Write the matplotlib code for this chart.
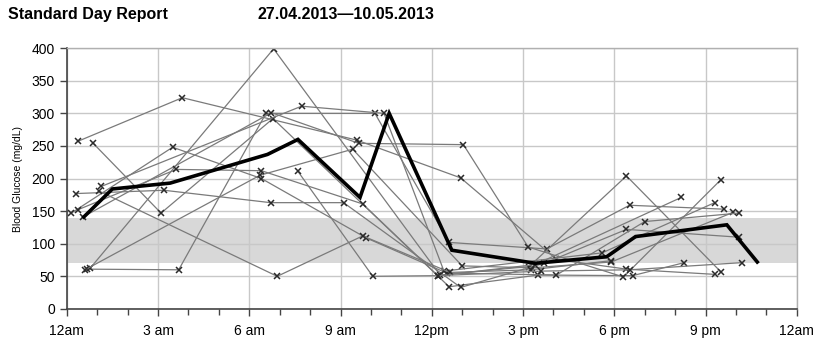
import numpy as np
import matplotlib
matplotlib.use('Agg')
from matplotlib import pyplot as plt
from matplotlib.ticker import MultipleLocator

plt.rcParams['font.family'] = ['Liberation Sans', 'DejaVu Sans']

# readings per day: hour of day, glucose in mg/dL
d1_h = [0.36, 3.8, 9.53, 12.95, 16.1, 18.4, 21.3]
d1_v = [257, 324, 259, 201, 76, 61, 53]
d2_h = [0.85, 3.1, 6.78, 12.57, 15.5, 18.6, 20.3]
d2_v = [255, 147, 292, 34, 52, 51, 71]
d3_h = [0.65, 3.68, 6.55, 10.13, 12.57, 15.78, 18.5, 21.6]
d3_v = [61, 60, 300, 300, 102, 92, 159, 153]
d4_h = [0.78, 6.8, 12.27, 15.2, 18.4, 21.5]
d4_v = [63, 399, 52, 65, 204, 57]
d5_h = [0.6, 6.35, 9.4, 13.0, 15.3, 17.9, 21.9]
d5_v = [60, 205, 245, 66, 63, 72, 148]
d6_h = [0.32, 3.2, 6.7, 9.1, 12.95, 15.7, 18.4, 22.1]
d6_v = [177, 182, 163, 163, 33, 70, 122, 110]
d7_h = [0.15, 3.48, 6.4, 9.84, 12.49, 16.1, 19.0, 22.1]
d7_v = [147, 248, 200, 109, 55, 52, 134, 147]
d8_h = [0.53, 6.73, 9.6, 13.04, 15.17, 18.3, 21.5]
d8_v = [141, 301, 254, 252, 95, 49, 198]
d9_h = [1.14, 7.72, 10.43, 12.4, 17.6, 21.3]
d9_v = [188, 311, 300, 58, 86, 163]
d10_h = [0.36, 3.6, 6.4, 9.73, 12.2, 15.4, 20.2]
d10_v = [152, 214, 212, 161, 51, 68, 171]
d11_h = [1.05, 6.92, 9.73, 12.6, 15.25, 17.9]
d11_v = [181, 50, 112, 56, 60, 74]
d12_h = [7.6, 10.06, 12.2, 15.6, 18.5, 22.2]
d12_v = [211, 50, 51, 58, 60, 71]

days = [(d1_h, d1_v), (d2_h, d2_v), (d3_h, d3_v), (d4_h, d4_v),
        (d5_h, d5_v), (d6_h, d6_v), (d7_h, d7_v), (d8_h, d8_v),
        (d9_h, d9_v), (d10_h, d10_v), (d11_h, d11_v), (d12_h, d12_v)]

# averaged curve
avg_h = [0.56, 1.5, 3.4, 6.6, 7.6, 9.64, 10.6, 12.66, 15.4, 17.75, 18.7, 21.7, 22.7]
avg_v = [141, 184, 193, 237, 260, 171, 300, 90, 70, 80, 111, 129, 72]

target_lo, target_hi = 70, 140

tick_hours = [0, 3, 6, 9, 12, 15, 18, 21, 24]
tick_labels = ['12am', '3 am', '6 am', '9 am', '12pm', '3 pm', '6 pm', '9 pm', '12am']

fig = plt.figure(figsize=(8.24, 3.44), dpi=100)
ax = fig.add_axes([0.081, 0.102, 0.886, 0.758])

ax.axhspan(target_lo, target_hi, color='#d8d8d8', zorder=0, lw=0)

for h, v in days:
    ax.plot(h, v, color='#7a7a7a', lw=0.9, marker='x', ms=5, mew=1.1,
            mec='#2a2a2a', zorder=2)

ax.plot(avg_h, avg_v, color='black', lw=2.6, zorder=3, solid_joinstyle='miter')

ax.set_xlim(0, 24)
ax.set_ylim(0, 400)
ax.xaxis.set_major_locator(MultipleLocator(3))
ax.xaxis.set_minor_locator(MultipleLocator(1))
ax.yaxis.set_major_locator(MultipleLocator(50))
ax.set_xticks(tick_hours)
ax.set_xticklabels(tick_labels)

ax.grid(True, which='major', color='#c8c8c8', lw=1.0, zorder=1)
ax.set_axisbelow(True)

for side in ['top', 'right']:
    ax.spines[side].set_color('#b0b0b0')
    ax.spines[side].set_linewidth(1.0)
for side in ['left', 'bottom']:
    ax.spines[side].set_color('#444444')
    ax.spines[side].set_linewidth(1.2)

ax.tick_params(axis='both', which='major', direction='out', length=5,
               width=1.0, color='#444444', labelsize=10)
ax.tick_params(axis='x', which='minor', direction='out', length=4,
               width=1.0, color='#444444')
ax.tick_params(axis='x', pad=6)

ax.set_ylabel('Blood Glucose (mg/dL)', fontsize=7.5, labelpad=6)

fig.text(0.010, 0.945, 'Standard Day Report', fontsize=11.5, fontweight='bold')
fig.text(0.313, 0.945, '27.04.2013\u201410.05.2013', fontsize=11.5, fontweight='bold')

fig.savefig('out.png', dpi=100)
